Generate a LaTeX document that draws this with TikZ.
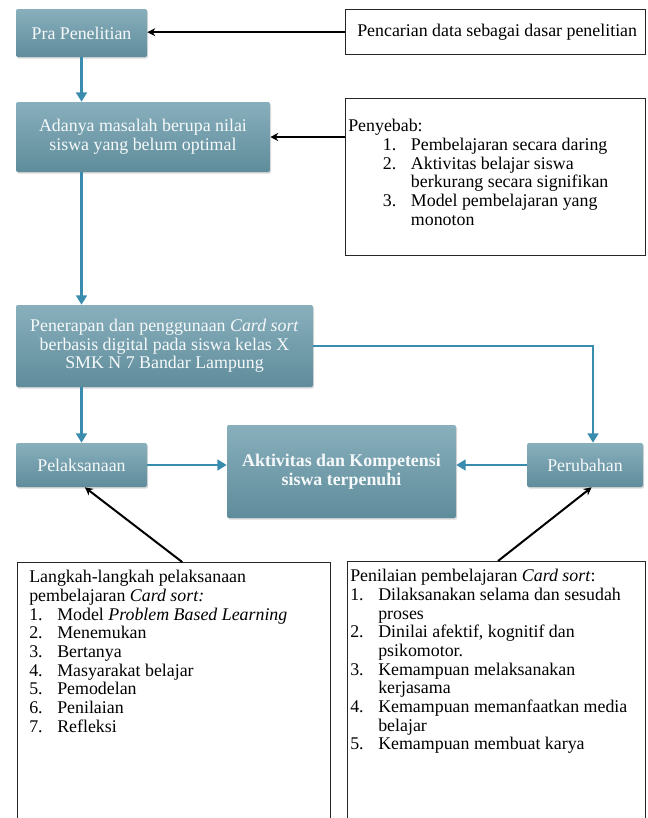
\documentclass[tikz,border=0pt]{standalone}
\usepackage{fontspec}
\setmainfont{Liberation Serif}
\usepackage{tikz}
\usetikzlibrary{calc,arrows.meta,shadows}
\usepackage{xcolor}
\definecolor{kotakatas}{HTML}{88AFBC}
\definecolor{kotakbawah}{HTML}{5F8C9B}
\definecolor{garisbiru}{HTML}{3A8CAF}
\newcommand{\px}{0.75pt}
\newcommand{\teks}{\fontsize{13.4pt}{14pt}\selectfont}
\newcommand{\no}[1]{\makebox[21pt][l]{#1}}
\newcommand{\prtahap}[6]{\node[tahap,minimum width=#4*\px,minimum height=#5*\px] (#1) at ($(O)+(#2,#3)$) {#6};}
\newcommand{\prket}[5]{\node[ket,minimum width=#4*\px,minimum height=#5*\px] (#1) at ($(O)+(#2,#3)$) {};}
\tikzset{
	tahap/.style={top color=kotakatas,bottom color=kotakbawah,text=white!92!kotakatas,align=center,
		font=\teks,inner sep=2pt,rounded corners=1.5pt,
		drop shadow={opacity=0.3,shadow xshift=0.8pt,shadow yshift=-1.2pt}},
	ket/.style={draw=black!85,line width=1pt,fill=white,anchor=north west,inner sep=0pt},
	isi/.style={anchor=north west,inner sep=0pt,align=left,font=\teks},
	panah/.style={draw=garisbiru,line width=2.2pt,-{Triangle[length=7pt,width=8pt]}},
	panahhitam/.style={draw=black,line width=1.5pt,-{Stealth[length=6pt,width=6pt]}}
}

\begin{document}
\begin{tikzpicture}[x=0.75pt,y=-0.75pt]
	\coordinate (O) at (0,0);
	\useasboundingbox (O) rectangle (648,818);
	\clip (O) rectangle (648,818);
	
	\prtahap{pra}{81.5}{33}{131}{48}{Pra Penelitian}
	\prtahap{adanya}{143}{137}{254}{70}{Adanya masalah berupa nilai\\siswa yang belum optimal}
	\prtahap{penerapan}{164.5}{346}{297}{82}{Penerapan dan penggunaan \textit{Card sort}\\berbasis digital pada siswa kelas X\\SMK N 7 Bandar Lampung}
	\prtahap{pel}{81.5}{465}{131}{44}{Pelaksanaan}
	\prtahap{aktivitas}{341.5}{471.5}{229}{93}{\textbf{Aktivitas dan Kompetensi}\\\textbf{siswa terpenuhi}}
	\prtahap{perubahan}{585}{465}{116}{44}{Perubahan}
	
	\prket{pencarian}{345}{9}{300}{45}
	\prket{penyebab}{345}{98}{300}{157}
	\prket{langkah}{17}{562}{313}{280}
	\prket{penilaian}{347}{561}{298}{280}
	
	\node[isi,anchor=west] (tpencarian) at ($(O)+(357,32)$) {Pencarian data sebagai dasar penelitian};
	\node[isi] (tpenyebab) at ($(O)+(348,119)$) {Penyebab:\\
		\hspace*{26pt}\no{1.}Pembelajaran secara daring\\
		\hspace*{26pt}\no{2.}Aktivitas belajar siswa\\
		\hspace*{26pt}\no{}berkurang secara signifikan\\
		\hspace*{26pt}\no{3.}Model pembelajaran yang\\
		\hspace*{26pt}\no{}monoton};
	\node[isi] (tlangkah) at ($(O)+(29,570)$) {Langkah-langkah pelaksanaan\\
		pembelajaran \textit{Card sort:}\\
		\no{1.}Model \textit{Problem Based Learning}\\
		\no{2.}Menemukan\\
		\no{3.}Bertanya\\
		\no{4.}Masyarakat belajar\\
		\no{5.}Pemodelan\\
		\no{6.}Penilaian\\
		\no{7.}Refleksi};
	\node[isi] (tpenilaian) at ($(O)+(350,569)$) {Penilaian pembelajaran \textit{Card sort}:\\
		\no{1.}Dilaksanakan selama dan sesudah\\
		\no{}proses\\
		\no{2.}Dinilai afektif, kognitif dan\\
		\no{}psikomotor.\\
		\no{3.}Kemampuan melaksanakan\\
		\no{}kerjasama\\
		\no{4.}Kemampuan memanfaatkan media\\
		\no{}belajar\\
		\no{5.}Kemampuan membuat karya};
	
	% panah biru
	\draw[panah] (pra.south) -- (pra.south |- adanya.north);
	\draw[panah] (adanya.south -| pra.south) -- (penerapan.north -| pra.south);
	\draw[panah] (penerapan.south -| pel.north) -- (pel.north);
	\draw[panah] (penerapan.east) -| ([xshift=6pt]perubahan.north);
	\draw[panah] (pel.east) -- (pel.east -| aktivitas.west);
	\draw[panah] (perubahan.west) -- (perubahan.west -| aktivitas.east);
	
	% panah hitam
	\draw[panahhitam] (pencarian.west) -- (pencarian.west -| pra.east);
	\draw[panahhitam] (penyebab.west |- adanya.east) -- (adanya.east);
	\draw[panahhitam] ([xshift=6pt]langkah.north) -- ([xshift=2.5pt]pel.south);
	\draw[panahhitam] ([xshift=1pt]penilaian.north) -- ([xshift=5pt]perubahan.south);
\end{tikzpicture}
\end{document}
